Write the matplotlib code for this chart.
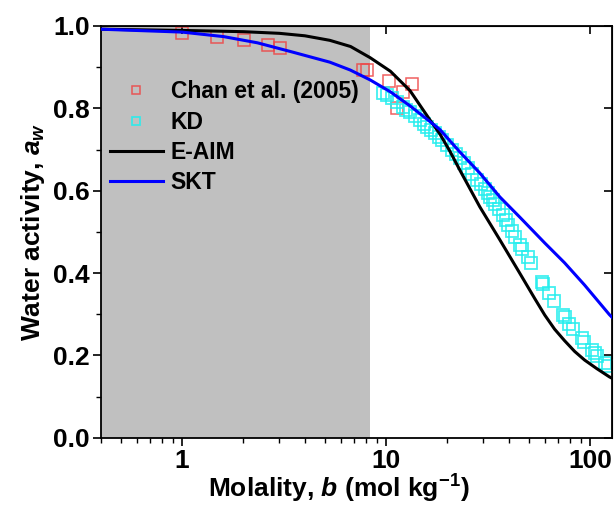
import matplotlib.pyplot as plt
from matplotlib.ticker import FixedLocator, NullLocator, FixedFormatter, LogLocator, NullFormatter

plt.rcParams['font.family'] = ['Liberation Sans', 'DejaVu Sans']
plt.rcParams['font.weight'] = 'bold'
plt.rcParams['mathtext.fontset'] = 'custom'
plt.rcParams['mathtext.rm'] = 'Liberation Sans:bold'
plt.rcParams['mathtext.it'] = 'Liberation Sans:italic:bold'
plt.rcParams['mathtext.bf'] = 'Liberation Sans:bold'

# Chan et al. (2005) measurements
chan_b = [1.0, 1.48, 2.01, 2.63, 3.03, 7.72, 8.07, 10.3, 11.3, 12.1, 13.4]
chan_aw = [0.983, 0.973, 0.966, 0.954, 0.947, 0.893, 0.893, 0.866, 0.801, 0.840, 0.859]

# KD data
kd_b = [9.67, 10.1, 10.7, 11.3, 12.1, 12.5, 13.1, 13.9, 14.7, 15.3, 15.9, 16.6, 17.4,
        18.2, 18.8, 19.9, 21.0, 22.0, 23.0, 24.1, 25.2, 26.3, 27.9, 29.1, 30.5, 31.5,
        32.3, 33.4, 34.1, 35.7, 37.3, 38.6, 39.5, 41.3, 42.7, 45.2, 46.2, 49.5, 51.2,
        57.9, 58.6, 62.7, 66.3, 73.4, 75.0, 78.5, 82.1, 90.9, 92.9, 101.7, 105.2,
        107.6, 117.8, 121.8]
kd_aw = [0.837, 0.833, 0.825, 0.816, 0.803, 0.796, 0.791, 0.782, 0.772, 0.762, 0.755,
         0.748, 0.740, 0.731, 0.723, 0.711, 0.699, 0.689, 0.680, 0.667, 0.655, 0.641,
         0.626, 0.617, 0.604, 0.595, 0.585, 0.578, 0.568, 0.556, 0.541, 0.529, 0.517,
         0.502, 0.488, 0.468, 0.459, 0.439, 0.425, 0.379, 0.374, 0.352, 0.333, 0.299,
         0.294, 0.277, 0.265, 0.243, 0.233, 0.214, 0.206, 0.199, 0.182, 0.175]

# E-AIM model curve
eaim_b = [0.4, 1.0, 2.0, 3.0, 4.0, 5.3, 6.7, 8.35, 10.5, 13.1, 16.4, 18.4, 20.6, 23.0,
          28.8, 36.1, 45.2, 53.6, 60.0, 67.0, 75.0, 84.0, 94.0, 108.0, 124.5, 128.0]
eaim_aw = [0.992, 0.989, 0.986, 0.982, 0.976, 0.965, 0.950, 0.923, 0.890, 0.843, 0.772,
           0.737, 0.695, 0.650, 0.561, 0.481, 0.400, 0.338, 0.298, 0.264, 0.236, 0.210,
           0.189, 0.168, 0.148, 0.145]

# SKT model curve
skt_b = [0.4, 1.0, 1.6, 2.34, 3.39, 5.3, 6.67, 8.35, 10.5, 13.1, 16.4, 18.4, 23.0, 28.8,
         36.1, 45.2, 60.0, 75.0, 94.0, 124.5, 128.0]
skt_aw = [0.992, 0.985, 0.974, 0.959, 0.938, 0.912, 0.893, 0.869, 0.840, 0.806, 0.768,
          0.748, 0.694, 0.643, 0.585, 0.536, 0.473, 0.425, 0.371, 0.299, 0.293]

shade_max = 8.3

fig = plt.figure(figsize=(6.15, 5.08), dpi=100)
ax = fig.add_axes([0.164, 0.138, 0.831, 0.811])

ax.axvspan(0.4, shade_max, color='#c0c0c0', lw=0, zorder=0)
ax.plot(chan_b, chan_aw, 's', mfc='none', mec='#ee4444', mew=1.1, ms=8, alpha=0.85,
        label='Chan et al. (2005)', zorder=2)
ax.plot(kd_b, kd_aw, 's', mfc='none', mec='#22eeee', mew=1.3, ms=8.5, alpha=0.85,
        label='KD', zorder=2)
ax.plot(eaim_b, eaim_aw, '-', color='black', lw=2.2, label='E-AIM', zorder=3)
ax.plot(skt_b, skt_aw, '-', color='#0000ff', lw=2.2, label='SKT', zorder=3)

ax.set_xscale('log')
ax.set_xlim(0.4, 128)
ax.set_ylim(0, 1.0)
ax.xaxis.set_major_locator(FixedLocator([1, 10, 100]))
ax.xaxis.set_major_formatter(FixedFormatter(['1', '10', '100']))
ax.xaxis.set_minor_locator(LogLocator(base=10, subs=range(2, 10)))
ax.xaxis.set_minor_formatter(NullFormatter())
ax.set_yticks([0.0, 0.2, 0.4, 0.6, 0.8, 1.0])
ax.set_yticklabels(['0.0', '0.2', '0.4', '0.6', '0.8', '1.0'])
ax.yaxis.set_minor_locator(FixedLocator([0.1, 0.3, 0.5, 0.7, 0.9]))

ax.tick_params(which='major', direction='out', length=6, width=1.2, labelsize=19, pad=2)
ax.tick_params(which='minor', direction='out', length=3.5, width=1.0)
for s in ax.spines.values():
    s.set_linewidth(1.3)

top = ax.secondary_xaxis('top')
top.xaxis.set_major_locator(FixedLocator([1, 10, 100]))
top.xaxis.set_minor_locator(NullLocator())
top.tick_params(direction='in', length=6, width=1.2, labeltop=False)
right = ax.secondary_yaxis('right')
right.yaxis.set_major_locator(FixedLocator([0.0, 0.2, 0.4, 0.6, 0.8, 1.0]))
right.yaxis.set_minor_locator(NullLocator())
right.tick_params(direction='in', length=6, width=1.2, labelright=False)

ax.set_xlabel(r'Molality, $b$ (mol kg$^{-1}$)', fontsize=19, fontweight='bold')
ax.xaxis.set_label_coords(0.465, -0.085, transform=ax.transAxes)
ax.xaxis.label.set_va('top')
ax.set_ylabel(r'Water activity, $a_w$', fontsize=19, fontweight='bold', labelpad=4)

ax.legend(loc='upper left', bbox_to_anchor=(0.0, 0.89), frameon=False, fontsize=16.5,
          markerscale=0.75, handlelength=2.3, handletextpad=0.35, labelspacing=0.32,
          borderaxespad=0.2, borderpad=0.2)

fig.savefig('out.png', dpi=100)
